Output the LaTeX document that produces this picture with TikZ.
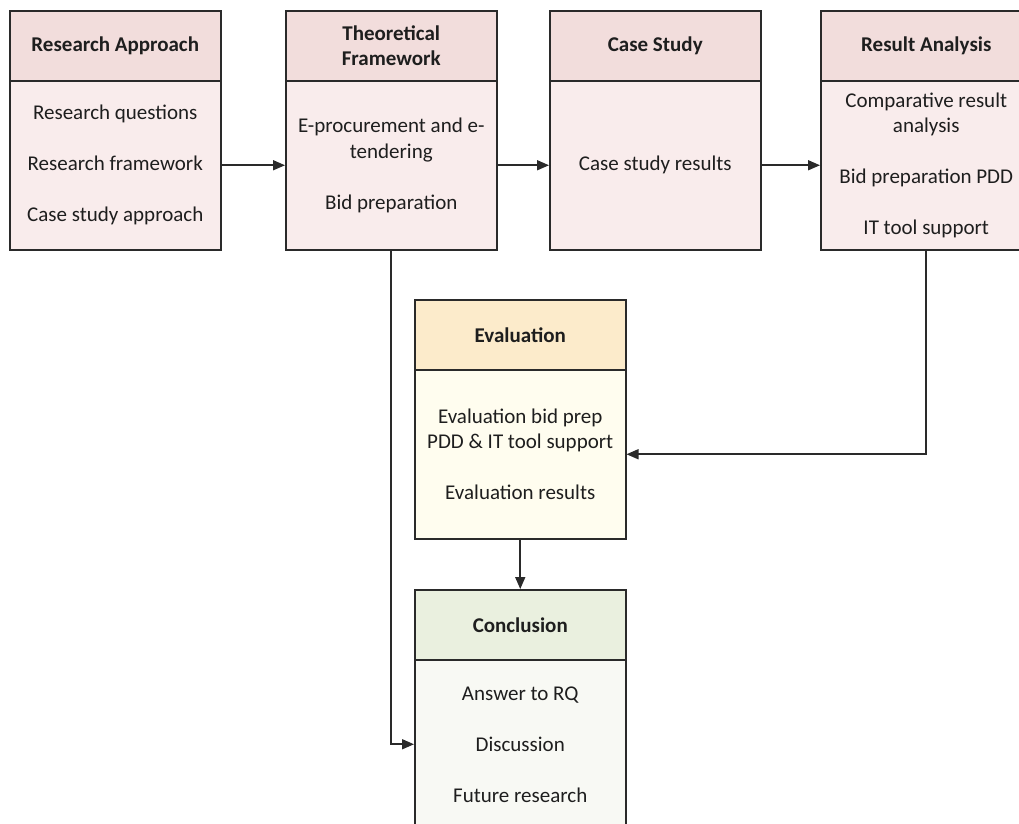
\documentclass[tikz,border=0pt]{standalone}
\usepackage{fontspec}
\setmainfont{Carlito}
\usetikzlibrary{arrows.meta}
\definecolor{edge}{HTML}{2A2A2A}
\definecolor{pinkhead}{HTML}{F2DDDC}
\definecolor{pinkbody}{HTML}{F9ECEC}
\definecolor{yellowhead}{HTML}{FCEBCB}
\definecolor{yellowbody}{HTML}{FFFDEF}
\definecolor{greenhead}{HTML}{EAF0DF}
\definecolor{greenbody}{HTML}{F8F9F4}
\definecolor{ink}{HTML}{1E1E1E}
\tikzset{
  x=1pt, y=-1pt,
  txt/.style={font=\fontsize{21}{25.5}\selectfont, text=ink, align=center},
  head/.style={txt, font=\fontsize{21}{25.5}\selectfont\bfseries, draw=edge, line width=1.5pt,
    minimum width=211pt, minimum height=70pt, inner sep=0pt, anchor=north west},
  body/.style={txt, draw=edge, line width=1.5pt,
    minimum width=211pt, minimum height=169pt, inner sep=0pt, anchor=north west},
  flow/.style={draw=edge, line width=1.6pt, -{Triangle[length=12pt,width=10pt]}}
}
\begin{document}
\begin{tikzpicture}
\useasboundingbox (0,0) rectangle (1019,823);
\clip (0,0) rectangle (1019,823);
\fill[white] (0,0) rectangle (1019,823);

% top row
\node[body, fill=pinkbody] (ra-b) at (9,80) {Research questions\\[25.5pt]Research framework\\[25.5pt]Case study approach};
\node[head, fill=pinkhead] (ra-h) at (9,10) {Research Approach};

\node[body, fill=pinkbody] (tf-b) at (285,80) {E-procurement and e-\\tendering\\[25.5pt]Bid preparation};
\node[head, fill=pinkhead] (tf-h) at (285,10) {Theoretical\\Framework};

\node[body, fill=pinkbody] (cs-b) at (549,80) {Case study results};
\node[head, fill=pinkhead] (cs-h) at (549,10) {Case Study};

\node[body, fill=pinkbody] (rs-b) at (820,80) {Comparative result\\analysis\\[25.5pt]Bid preparation PDD\\[25.5pt]IT tool support};
\node[head, fill=pinkhead] (rs-h) at (820,10) {Result Analysis};

% evaluation
\node[body, fill=yellowbody] (ev-b) at (414,369) {Evaluation bid prep\\PDD \& IT tool support\\[25.5pt]Evaluation results};
\node[head, fill=yellowhead] (ev-h) at (414,299) {Evaluation};

% conclusion
\node[body, fill=greenbody] (co-b) at (414,659) {Answer to RQ\\[25.5pt]Discussion\\[25.5pt]Future research};
\node[head, fill=greenhead] (co-h) at (414,589) {Conclusion};

% connectors
\draw[flow] (ra-b.east) -- (tf-b.west);
\draw[flow] (tf-b.east) -- (cs-b.west);
\draw[flow] (cs-b.east) -- (rs-b.west);
\draw[flow] (rs-b.south) |- (ev-b.east);
\draw[flow] (ev-b.south) -- (co-h.north);
\draw[flow] (tf-b.south) |- (co-b.west);
\end{tikzpicture}
\end{document}
